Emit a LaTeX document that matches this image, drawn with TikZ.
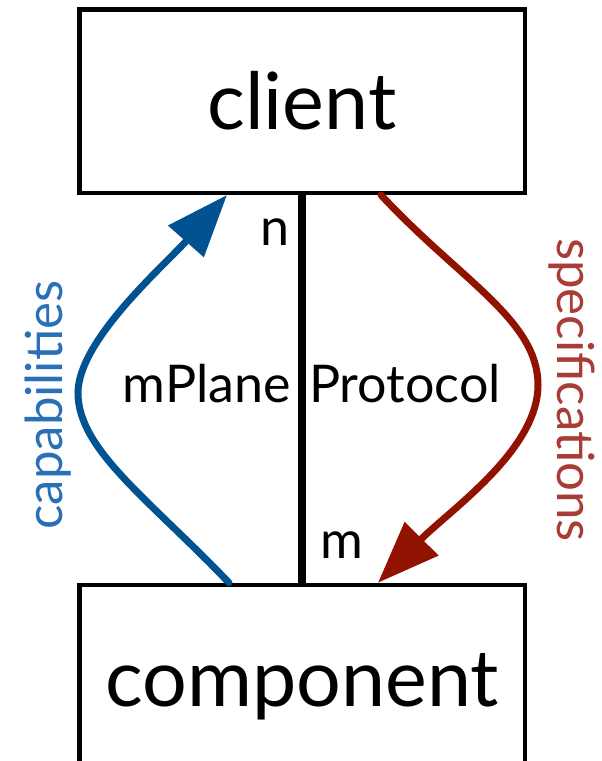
\documentclass[tikz,border=0pt]{standalone}
\usepackage{fontspec}
\setmainfont{Lato}
\usetikzlibrary{arrows.meta}
\definecolor{arrblue}{RGB}{0,82,145}
\definecolor{arrred}{RGB}{145,18,0}
\definecolor{lblblue}{RGB}{42,112,185}
\definecolor{lblred}{RGB}{168,60,54}
\begin{document}
\begin{tikzpicture}[x=1pt,y=-1pt,
  box/.style={draw, line width=4.5pt, inner sep=0pt, font=\fontsize{79}{81}\selectfont},
  big/.style={font=\fontsize{52}{54}\selectfont, inner sep=0pt},
  lbl/.style={font=\fontsize{51}{53}\selectfont, inner sep=0pt},
  flow/.style={line width=7pt, line cap=round}]
\useasboundingbox (0,0) rectangle (602,761);
\node[box, minimum width=445.5pt, minimum height=183.5pt] (client) at (302,101) {client};
\node[box, minimum width=445.5pt, minimum height=204pt] (component) at (302,687) {component};
\draw[line width=8.5pt] (client.south) -- (component.north);
\node[big, anchor=base] (n) at (275,245) {n};
\node[big, anchor=base] (m) at (342,558) {m};
\node[big, anchor=base east] (mplane) at (291,402) {mPlane};
\node[big, anchor=base west] (protocol) at (309,402) {Protocol};
\node[lbl, text=lblblue, rotate=90, anchor=base] (cap) at (62,405) {capabilities};
\node[lbl, text=lblred, rotate=-90, anchor=base] (spec) at (557,390) {specifications};
\draw[flow, arrblue, -{Triangle[length=62pt,width=46pt]}]
  ([xshift=-73pt]component.north) .. controls (150,500) and (78,450) .. (78,393)
  .. controls (78,340) and (165,265) .. ([xshift=-75pt]client.south);
\draw[flow, arrred, -{Triangle[length=62pt,width=46pt]}]
  ([xshift=79pt]client.south) .. controls (460,280) and (538,320) .. (538,385)
  .. controls (538,450) and (450,510) .. ([xshift=76pt]component.north);
\end{tikzpicture}
\end{document}
